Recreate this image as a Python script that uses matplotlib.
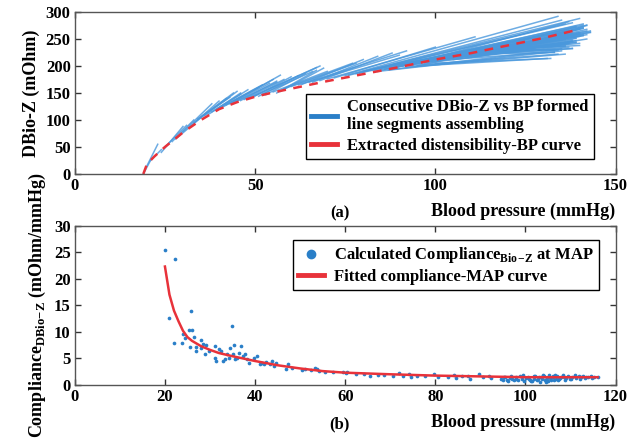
import matplotlib
matplotlib.use("Agg")
import matplotlib.pyplot as plt
from matplotlib.lines import Line2D

plt.rcParams["font.family"] = ["Liberation Serif", "DejaVu Serif"]
plt.rcParams["font.weight"] = "bold"
plt.rcParams["mathtext.fontset"] = "custom"
plt.rcParams["mathtext.rm"] = "Liberation Serif:bold"
plt.rcParams["mathtext.bf"] = "Liberation Serif:bold"

# ---- (a) line segments: diastolic -> systolic per beat ----
seg_x0 = [19, 20, 21, 24, 25, 27, 28, 30, 32, 33, 35, 36, 38, 40, 42, 43, 45, 48, 50, 52,
          55, 58, 60, 62, 65, 70, 72, 75, 78, 80, 82, 85, 88, 90, 92, 95, 97, 100, 102, 105,
          108, 110, 100, 95, 85, 90, 98, 103, 107, 112, 115, 118, 120, 122, 95, 92, 105, 110,
          88, 100, 113, 117,
          # extra beats filling the dense high-pressure fan
          76, 79, 83, 86, 89, 91, 93, 94, 96, 99, 101, 104, 106, 109, 111, 114, 116, 119, 121, 124,
          84, 87, 93, 97, 102, 106, 111, 115, 119, 123,
          34, 37, 39, 41, 44, 46, 47, 49, 51, 53, 56, 57, 63, 66, 68]
seg_y0 = [0, 15, 25, 40, 50, 60, 65, 78, 88, 95, 105, 108, 115, 122, 128, 130, 135, 140, 145, 148,
          152, 158, 162, 165, 170, 176, 178, 182, 186, 190, 192, 196, 200, 203, 205, 208, 210, 213, 215, 218,
          220, 222, 205, 200, 192, 200, 208, 214, 217, 222, 225, 230, 235, 237, 200, 198, 212, 216,
          195, 208, 224, 228,
          183, 187, 191, 194, 198, 200, 202, 204, 206, 209, 211, 214, 216, 219, 221, 224, 226, 229, 232, 236,
          190, 193, 201, 205, 211, 215, 220, 224, 229, 234,
          102, 110, 118, 124, 132, 136, 138, 141, 144, 147, 150, 153, 166, 170, 173]
seg_x1 = [21, 23, 24, 30, 31, 33, 36, 38, 40, 42, 44, 45, 46, 52, 55, 57, 56, 67, 68, 66,
          70, 77, 78, 92, 90, 111, 100, 134, 135, 140, 138, 142, 140, 142, 138, 140, 136, 138, 135, 137,
          134, 133, 132, 137, 139, 141, 140, 143, 141, 139, 138, 141, 143, 140, 131, 136, 139, 142,
          137, 141, 140, 138,
          136, 139, 141, 137, 140, 142, 138, 136, 141, 139, 143, 137, 140, 138, 142, 139, 141, 137, 140, 142,
          135, 138, 134, 136, 133, 139, 135, 137, 134, 136,
          43, 46, 48, 51, 54, 56, 58, 60, 62, 64, 67, 69, 80, 84, 88]
seg_y1 = [25, 55, 45, 88, 90, 100, 110, 130, 135, 140, 150, 153, 148, 165, 175, 183, 170, 197, 200, 190,
          190, 205, 205, 228, 220, 254, 235, 292, 285, 288, 280, 275, 270, 265, 260, 255, 250, 245, 240, 235,
          230, 225, 214, 262, 272, 278, 268, 262, 258, 252, 248, 270, 265, 260, 214, 222, 244, 250,
          282, 276, 242, 232,
          278, 274, 270, 266, 262, 258, 254, 250, 256, 247, 263, 243, 259, 246, 268, 251, 272, 255, 238, 276,
          228, 233, 222, 238, 226, 244, 232, 241, 230, 236,
          142, 150, 156, 160, 168, 172, 175, 180, 182, 186, 192, 196, 212, 218, 224]

# extracted distensibility-BP curve
curve_bp = [19, 20, 22, 25, 28, 30, 35, 40, 45, 50, 55, 60, 70, 80, 90, 100, 110, 120, 130, 140]
curve_dz = [0, 18, 32, 50, 66, 77, 100, 120, 133, 143, 151, 158, 172, 185, 198, 212, 224, 238, 252, 268]

# ---- (b) compliance at MAP ----
map_x = [20, 22.2, 20.9, 21.9, 23.8, 24, 24.4, 25.8, 25.4, 26.1, 25.6, 26.8, 26.5, 27, 27.9, 28.1,
         28.5, 28.9, 29.2, 29.7, 31, 31.2, 31.3, 31.9, 32.4, 32.9, 33.3, 33.8, 34.2, 34.4, 34.9, 35.1,
         35.4, 35.6, 36, 36.5, 36.9, 37.4, 37.8, 38.3, 38.7, 39.7, 40.4, 41, 41.5, 41.9, 42.4, 43.3,
         43.7, 44.2, 44.6, 46.9, 47.4, 48.3, 50.5, 51, 52.4, 53.3, 53.7, 54.2, 55.5, 57.4, 59.6, 60.1,
         60.5, 62.3, 64.2, 65.5, 67.3, 68.7, 70.5, 71.9, 72.8, 74.1, 74.6, 76, 77.8, 79.6, 80.5, 82.8,
         84.1, 84.6, 86, 87.3, 87.7, 89.6, 90.5, 91.8, 92.3,
         94.5, 95, 95.3, 95.8, 96.2, 96.6, 97, 97.4, 97.9, 98.3, 98.8, 99.2, 99.7, 100.1, 100.5,
         100.9, 101.3, 101.8, 102.2, 102.6, 103, 103.3, 103.7, 104.1, 104.5, 104.8, 105.2, 105.6,
         106, 106.3, 106.7, 107.1, 107.5, 107.9, 108.3, 108.7, 109.1, 109.5, 110, 110.4, 110.9,
         111.3, 111.8, 112.3, 112.8, 113.3, 113.9, 114.5, 115.2, 116,
         95.5, 96.8, 98, 99.5, 100.8, 102, 103.5, 104.3, 105.5, 106.5, 107.3, 108.5, 109.8, 111,
         112, 113.5, 114.8, 101.5, 103.8, 105, 106.2, 107.7, 104.6, 102.8]
map_c = [25.4, 23.8, 12.6, 7.85, 7.85, 9.5, 8.8, 14.0, 10.3, 10.3, 7.1, 7.2, 9.0, 6.4, 7.0, 8.5,
         7.7, 5.75, 7.5, 6.4, 7.3, 5.1, 4.5, 6.7, 6.4, 4.5, 4.8, 5.75, 5.1, 7.0, 11.1, 5.75,
         7.5, 4.8, 5.1, 6.1, 7.3, 5.4, 5.75, 4.8, 4.2, 5.1, 5.4, 3.9, 4.2, 3.9, 4.4, 4.0,
         4.5, 3.6, 4.2, 3.0, 3.9, 3.2, 2.8, 3.0, 2.8, 3.2, 3.0, 2.7, 2.35, 2.35, 2.5, 2.2,
         2.35, 2.0, 2.0, 1.7, 1.9, 1.85, 1.7, 2.15, 1.7, 2.0, 1.4, 1.7, 1.6, 2.0, 1.4, 1.55,
         1.9, 1.3, 1.7, 1.7, 1.1, 2.0, 1.4, 1.7, 1.3,
         1.2, 0.9, 1.5, 1.0, 0.8, 1.3, 1.1, 0.9, 1.4, 1.0, 1.6, 1.2, 0.8, 1.3, 1.5,
         1.0, 0.7, 1.2, 1.6, 0.9, 1.4, 0.6, 1.1, 1.7, 0.8, 1.3, 1.9, 1.0,
         1.5, 0.9, 1.2, 1.7, 1.1, 1.4, 1.8, 1.0, 1.3, 1.6, 1.2, 1.5, 1.8,
         1.3, 1.6, 1.4, 1.7, 1.3, 1.5, 1.6, 1.4, 1.5,
         1.4, 1.6, 1.2, 1.8, 1.1, 1.7, 1.5, 1.0, 1.3, 1.8, 0.9, 1.4, 1.2, 1.7,
         1.1, 1.5, 1.3, 0.7, 1.9, 0.8, 1.6, 1.3, 0.6, 1.2]

# fitted compliance-MAP curve
fit_x = [20, 21, 22, 23, 24, 25, 26, 28, 30, 32, 35, 40, 45, 50, 55, 60, 70, 80, 90, 100, 110, 116]
fit_c = [22.3, 17.0, 14.0, 12.0, 10.2, 9.0, 8.3, 7.3, 6.6, 6.0, 5.4, 4.5, 3.7, 3.1, 2.6, 2.3,
         2.0, 1.75, 1.6, 1.45, 1.45, 1.45]

BLUE = "#4a98dc"
DOT = "#2a7fc8"
RED = "#e8323a"

fig = plt.figure(figsize=(6.34, 4.46), dpi=100)
ax1 = fig.add_axes([0.118, 0.610, 0.853, 0.363])
ax2 = fig.add_axes([0.118, 0.137, 0.853, 0.357])

# (a)
for x0, y0, x1, y1 in zip(seg_x0, seg_y0, seg_x1, seg_y1):
    ax1.plot([x0, x1], [y0, y1], color=BLUE, lw=1.1, alpha=0.8)
ax1.plot(curve_bp, curve_dz, color=RED, lw=1.8, ls=(0, (3.5, 3)))
ax1.set_xlim(0, 150)
ax1.set_ylim(0, 300)
ax1.set_xticks([0, 50, 100, 150])
ax1.set_yticks([0, 50, 100, 150, 200, 250, 300])
ax1.set_ylabel("DBio-Z (mOhm)", fontsize=13, fontweight="bold", labelpad=4)
ax1.set_xlabel("Blood pressure (mmHg)", fontsize=13, fontweight="bold", loc="right", labelpad=6)
ax1.text(0.49, -0.195, "(a)", transform=ax1.transAxes, fontsize=12, fontweight="bold",
         ha="center", va="top")
h1 = [Line2D([], [], color=DOT, lw=3.5), Line2D([], [], color=RED, lw=3.5)]
leg1 = ax1.legend(h1, ["Consecutive DBio-Z vs BP formed\nline segments assembling",
                       "Extracted distensibility-BP curve"],
                  loc="lower right", bbox_to_anchor=(0.975, 0.04), fontsize=12,
                  fancybox=False, framealpha=1, edgecolor="black", handlelength=1.6,
                  borderpad=0.3, labelspacing=0.3, handletextpad=0.6)
leg1.get_frame().set_linewidth(1.0)

# (b)
ax2.scatter(map_x, map_c, s=7, color=DOT, zorder=2, linewidths=0)
ax2.plot(fit_x, fit_c, color=RED, lw=1.8, zorder=3)
ax2.set_xlim(0, 120)
ax2.set_ylim(0, 30)
ax2.set_xticks([0, 20, 40, 60, 80, 100, 120])
ax2.set_yticks([0, 5, 10, 15, 20, 25, 30])
ax2.set_ylabel(r"Compliance$_{\mathrm{DBio\!-\!Z}}$ (mOhm/mmHg)", fontsize=13,
               fontweight="bold", labelpad=4)
ax2.set_xlabel("Blood pressure (mmHg)", fontsize=13, fontweight="bold", loc="right", labelpad=6)
ax2.text(0.49, -0.195, "(b)", transform=ax2.transAxes, fontsize=12, fontweight="bold",
         ha="center", va="top")
h2 = [Line2D([], [], color=DOT, marker="o", ls="none", markersize=6),
      Line2D([], [], color=RED, lw=3.5)]
leg2 = ax2.legend(h2, [r"Calculated Compliance$_{\mathrm{Bio\!-\!Z}}$ at MAP",
                       "Fitted compliance-MAP curve"],
                  loc="upper right", bbox_to_anchor=(0.985, 0.96), fontsize=12,
                  fancybox=False, framealpha=1, edgecolor="black", handlelength=1.6,
                  borderpad=0.3, labelspacing=0.2, handletextpad=0.6)
leg2.get_frame().set_linewidth(1.0)

for ax in (ax1, ax2):
    ax.tick_params(direction="in", top=True, right=True, labelsize=12, length=4, width=1,
                   colors="#333333", labelcolor="black", pad=3)
    for lab in ax.get_xticklabels() + ax.get_yticklabels():
        lab.set_fontweight("bold")
    for sp in ax.spines.values():
        sp.set_color("#555555")
        sp.set_linewidth(1.0)

fig.savefig("out.png", dpi=100)
